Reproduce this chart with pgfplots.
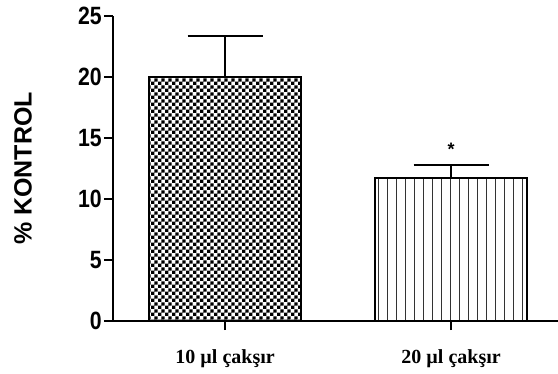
\documentclass[border=0pt]{standalone}
\usepackage{pgfplots}
\pgfplotsset{compat=1.18}
\usepackage{fontspec}
\setmainfont{Liberation Serif}
\setsansfont{Liberation Sans}
\newfontfamily\tickfont{Liberation Sans}[FakeStretch=0.85]
\usetikzlibrary{patterns}

% fine checkerboard fill
\pgfdeclarepatternformonly{finecheck}{\pgfqpoint{0pt}{0pt}}{\pgfqpoint{7.2pt}{7.2pt}}{\pgfqpoint{7.2pt}{7.2pt}}{%
  \pgfpathrectangle{\pgfqpoint{0pt}{0pt}}{\pgfqpoint{3.6pt}{3.6pt}}%
  \pgfpathrectangle{\pgfqpoint{3.6pt}{3.6pt}}{\pgfqpoint{3.6pt}{3.6pt}}%
  \pgfusepath{fill}}
% widely spaced vertical lines
\pgfdeclarepatternformonly{widevlines}{\pgfqpoint{0pt}{0pt}}{\pgfqpoint{1.2pt}{100pt}}{\pgfqpoint{9pt}{100pt}}{%
  \pgfsetlinewidth{1.2pt}%
  \pgfpathmoveto{\pgfqpoint{0.6pt}{0pt}}%
  \pgfpathlineto{\pgfqpoint{0.6pt}{100pt}}%
  \pgfusepath{stroke}}

\begin{document}
\begin{tikzpicture}
\useasboundingbox (-113pt,-52pt) rectangle (445pt,321pt);
\begin{axis}[
  scale only axis,
  width=445pt, height=305pt,
  xmin=-0.496, xmax=1.473,
  ymin=0, ymax=25,
  axis x line*=bottom, axis y line*=left,
  axis line style={-, line width=2pt},
  xtick={0,1},
  xticklabels={10 µl çakşır, 20 µl çakşır},
  ytick={0,5,10,15,20,25},
  tick align=outside,
  major tick length=9pt,
  every tick/.style={black, line width=2pt},
  /pgf/number format/assume math mode=true,
  yticklabel style={font=\tickfont\bfseries\fontsize{25}{25}\selectfont, inner sep=1pt, xshift=-1pt},
  xticklabel style={font=\rmfamily\bfseries\fontsize{20}{20}\selectfont, yshift=-16pt},
  ylabel={\% KONTROL},
  every axis y label/.style={at={(axis description cs:-0.202,0.5)}, anchor=center, rotate=90,
    font=\sffamily\bfseries\fontsize{25}{25}\selectfont},
  ybar, bar width=152pt,
  clip=false,
]
\addplot[bar shift=0pt, draw=black, line width=2pt, pattern=finecheck, pattern color=black,
  error bars/.cd, y dir=plus, y explicit,
  error bar style={line width=2pt, black},
  error mark options={rotate=90, line width=2pt, mark size=37.5pt, black}]
  coordinates {(0,20.0) +- (0,3.4)};
\addplot[bar shift=0pt, draw=black, line width=2pt, pattern=widevlines, pattern color=black!80,
  error bars/.cd, y dir=plus, y explicit,
  error bar style={line width=2pt, black},
  error mark options={rotate=90, line width=2pt, mark size=37.5pt, black}]
  coordinates {(1,11.7) +- (0,1.1)};
\node[font=\sffamily\bfseries\fontsize{18}{18}\selectfont] at (axis cs:1,14.1) {*};
\end{axis}
\end{tikzpicture}
\end{document}
